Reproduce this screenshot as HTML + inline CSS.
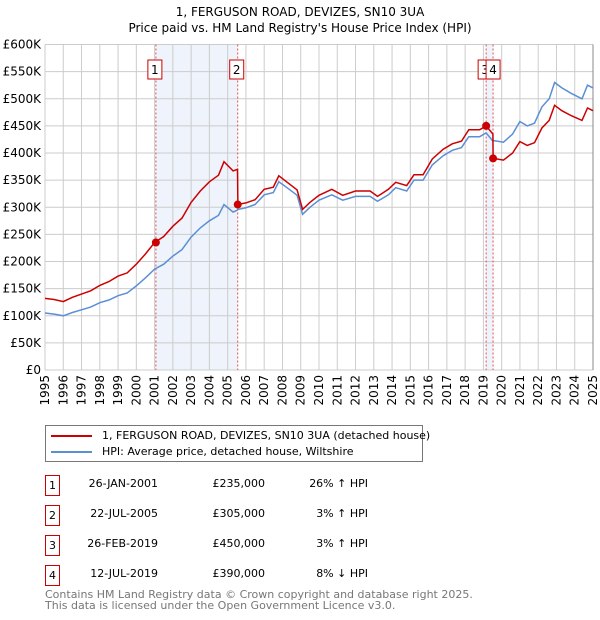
<!DOCTYPE html>
<html><head><meta charset="utf-8"><style>
body{margin:0;background:#fff;font-family:"DejaVu Sans","Liberation Sans",sans-serif;}
#wrap{position:relative;width:600px;height:620px;overflow:hidden}
.t{position:absolute;font-size:11px;color:#000;white-space:nowrap}
.box{position:absolute;width:13px;height:19px;border:1px solid #c00;font-size:11px;text-align:center;line-height:19px}
</style></head><body><div id="wrap">
<svg id="svg" width="600" height="420" style="position:absolute;left:0;top:0" font-family="DejaVu Sans, Liberation Sans, sans-serif"></svg>
<div style="position:absolute;left:45px;top:425px;width:376px;height:35px;border:1px solid #777;font-size:11px;white-space:nowrap">
 <div style="position:absolute;left:5px;top:3px"><span style="display:inline-block;width:41px;height:2px;background:#c00;vertical-align:middle;margin-right:10px"></span>1, FERGUSON ROAD, DEVIZES, SN10 3UA (detached house)</div>
 <div style="position:absolute;left:5px;top:19px"><span style="display:inline-block;width:41px;height:2px;background:#5b8fd4;vertical-align:middle;margin-right:10px"></span>HPI: Average price, detached house, Wiltshire</div>
</div>
<div id="table"></div>
<div class="t" style="left:45px;top:589px;color:#777;line-height:11px">Contains HM Land Registry data © Crown copyright and database right 2025.<br>This data is licensed under the Open Government Licence v3.0.</div>
</div>
<script>
const hpiDates=[1995.0,1995.5,1996.0,1996.5,1997.0,1997.5,1998.0,1998.5,1999.0,1999.5,2000.0,2000.5,2001.0,2001.5,2002.0,2002.5,2003.0,2003.5,2004.0,2004.5,2004.8,2005.3,2005.54,2005.56,2006.0,2006.5,2007.0,2007.5,2007.8,2008.3,2008.8,2009.1,2009.5,2010.0,2010.7,2011.3,2012.0,2012.8,2013.2,2013.8,2014.2,2014.8,2015.2,2015.7,2016.2,2016.8,2017.3,2017.8,2018.2,2018.8,2019.15,2019.52,2019.53,2020.1,2020.6,2021.0,2021.4,2021.8,2022.2,2022.6,2022.9,2023.3,2023.8,2024.4,2024.7,2025.0];
const hpiValues=[105,103,100,106,111,116,124,129,137,142,155,170,186,195,210,222,245,262,275,285,305,291,295,296,299,305,323,327,347,335,322,287,300,313,323,313,320,320,311,323,336,330,350,350,378,395,405,410,430,430,437,422,423,420,435,458,450,455,485,500,530,520,510,500,525,520];
const propValues=[132,130,126,134,140,146,156,163,173,179,195,214,235,246,265,280,309,330,347,359,384,367,370,305,308,314,333,337,358,345,332,296,309,322,333,322,330,330,320,333,346,340,360,360,389,407,417,422,443,443,450,435,390,387,400,421,414,419,446,460,488,478,469,460,483,478];
const saleDates=[2001.07,2005.55,2019.15,2019.53];
const salePrices=[235,305,450,390];
const saleLabels=["1","2","3","4"];
const saleDateText=["26-JAN-2001","22-JUL-2005","26-FEB-2019","12-JUL-2019"];
const salePriceText=["£235,000","£305,000","£450,000","£390,000"];
const saleHpiText=["26% ↑ HPI","3% ↑ HPI","3% ↑ HPI","8% ↓ HPI"];
const yTicks=[0,50,100,150,200,250,300,350,400,450,500,550,600];
const yTickLabels=["£0","£50K","£100K","£150K","£200K","£250K","£300K","£350K","£400K","£450K","£500K","£550K","£600K"];
const xYears=[1995,1996,1997,1998,1999,2000,2001,2002,2003,2004,2005,2006,2007,2008,2009,2010,2011,2012,2013,2014,2015,2016,2017,2018,2019,2020,2021,2022,2023,2024,2025];

const X0=45,X1=593,Y0=370,Y1=44.5;
const xs=v=>X0+(v-1995)/30*(X1-X0);
const ys=v=>Y0-v/600*(Y0-Y1);
const svg=document.getElementById('svg');const NS='http://www.w3.org/2000/svg';
function mk(t,a,p){const e=document.createElementNS(NS,t);for(const k in a)e.setAttribute(k,a[k]);(p||svg).appendChild(e);return e;}

let e=mk('text',{x:300,y:16,'text-anchor':'middle','font-size':12});e.textContent='1, FERGUSON ROAD, DEVIZES, SN10 3UA';


e=mk('text',{x:300,y:32,'text-anchor':'middle','font-size':12});e.textContent="Price paid vs. HM Land Registry's House Price Index (HPI)";



[[0,1],[2,3]].forEach((p,i)=>{const r=mk('rect',{x:xs(saleDates[p[0]]),y:Y1,width:xs(saleDates[p[1]])-xs(saleDates[p[0]]),height:Y0-Y1,fill:'#eef3fc'});

});

yTicks.forEach((v,i)=>{const l=mk('line',{x1:X0,x2:X1,y1:ys(v),y2:ys(v),stroke:'#ccc','stroke-width':1});


const t=mk('text',{x:X0-4,y:ys(v)+4,'text-anchor':'end','font-size':12});t.textContent=yTickLabels[i];

});
xYears.forEach(y=>{const l=mk('line',{x1:xs(y),x2:xs(y),y1:Y1,y2:Y0,stroke:'#ccc','stroke-width':1});


const t=mk('text',{x:0,y:0,'text-anchor':'end','font-size':12,transform:`translate(${xs(y)+4},${Y0+5}) rotate(-90)`});t.textContent=y;

});
e=mk('line',{x1:X1,x2:X1,y1:Y1,y2:Y0,stroke:'#888'});



saleDates.forEach((d,i)=>{const l=mk('line',{x1:xs(d),x2:xs(d),y1:Y1,y2:Y0,stroke:'#e05050','stroke-width':1,'stroke-dasharray':'2,2'});

});

function line(vals,col,name){const d=hpiDates.map((t,i)=>(i?'L':'M')+xs(t).toFixed(1)+','+ys(vals[i]).toFixed(1)).join('');
const p=mk('path',{d:d,fill:'none',stroke:col,'stroke-width':1.5});

}
line(hpiValues,'#5b8fd4','hpi-line');
line(propValues,'#cc0000','property-price-line');

saleDates.forEach((d,i)=>{const c=mk('circle',{cx:xs(d),cy:ys(salePrices[i]),r:4,fill:'#cc0000'});


const bx=(i==2)?xs(d)-8:(i==3)?xs(d)-7:xs(d)-8;
const r=mk('rect',{x:bx,y:60,width:14,height:19,fill:'#fff',stroke:'#c00'});


const t=mk('text',{x:bx+7,y:74,'text-anchor':'middle','font-size':12});t.textContent=saleLabels[i];

});

const tb=document.getElementById('table');
saleLabels.forEach((s,i)=>{const top=475+i*30;
let b=document.createElement('div');b.className='box';b.style.left='45px';b.style.top=top+'px';b.textContent=s;tb.appendChild(b);


[[158,saleDateText[i],'row-date'],[265,salePriceText[i],'row-price'],[368,saleHpiText[i],'row-hpi-diff']].forEach(([x,tx,n])=>{const d=document.createElement('div');d.className='t';
d.style.left=(x-120)+'px';d.style.width='120px';d.style.textAlign='right';d.style.top=(top+2)+'px';d.textContent=tx;tb.appendChild(d);

});});
</script></body></html>
